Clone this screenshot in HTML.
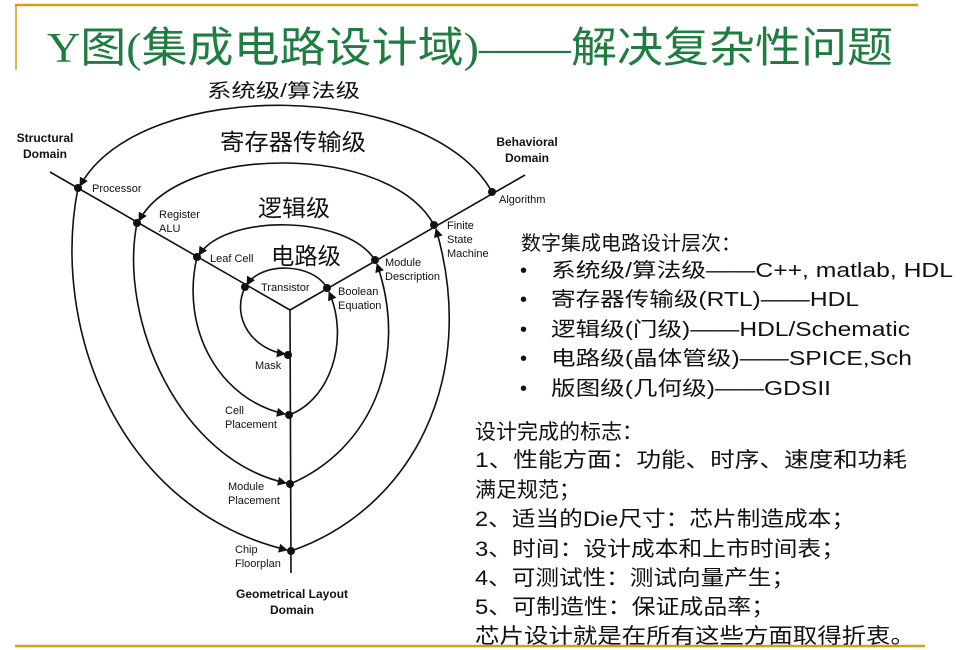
<!DOCTYPE html>
<html><head><meta charset="utf-8"><style>
html,body{margin:0;padding:0;background:#fff;width:963px;height:650px;overflow:hidden}
svg{display:block}
.s{font-family:"Liberation Sans",Arial,sans-serif;font-size:11px;fill:#111}
.b{font-family:"Liberation Sans",Arial,sans-serif;font-size:12px;font-weight:bold;fill:#111}
.c{font-family:"Liberation Sans","Noto Sans CJK SC",sans-serif;fill:#111}
</style></head><body>
<svg width="963" height="650" viewBox="0 0 963 650" xmlns="http://www.w3.org/2000/svg">
<defs><marker id="a" viewBox="0 0 10 10" refX="9" refY="5" markerWidth="11" markerHeight="9" markerUnits="userSpaceOnUse" orient="auto"><path d="M0,0L10,5L0,10z" fill="#111"/></marker></defs>
<line x1="15" y1="5" x2="918" y2="5" stroke="#d4a017" stroke-width="2.5"/>
<line x1="16" y1="4" x2="16" y2="70" stroke="#d4a017" stroke-width="1.5"/>
<line x1="15" y1="646" x2="925" y2="646" stroke="#d4a017" stroke-width="2.5"/>
<text x="47" y="62" textLength="846" lengthAdjust="spacingAndGlyphs" style="font-family:'Liberation Serif','Noto Sans CJK SC',serif;font-size:42px;fill:#1f7d42">Y图(集成电路设计域)——解决复杂性问题</text>
<g fill="none" stroke="#111" stroke-width="1.6">
<line x1="50" y1="172" x2="290" y2="310"/><line x1="525" y1="175" x2="290" y2="310"/><line x1="290" y1="310" x2="291" y2="573"/>
<g marker-end="url(#a)">
<path d="M492,192 C430,80 140,75 80,186"/>
<path d="M78,188 C50,330 120,510 287,550"/>
<path d="M291,551 C410,510 480,380 436,229"/>
<path d="M434,225 C390,143 180,143 139,221"/>
<path d="M137,223 C118,320 180,460 286,483"/>
<path d="M290,484 C370,450 410,360 377,264"/>
<path d="M375,260 C345,214 225,214 199,255"/>
<path d="M197,257 C180,330 220,400 285,414"/>
<path d="M289,415 C330,400 350,340 329,292"/>
<path d="M327,288 C312,262 260,262 247,285"/>
<path d="M245,287 C230,320 255,350 285,354"/>
</g></g>
<g fill="#111">
<circle cx="78" cy="188" r="4"/><circle cx="137" cy="223" r="4"/><circle cx="197" cy="257" r="4"/><circle cx="245" cy="287" r="4"/>
<circle cx="492" cy="192" r="4"/><circle cx="434" cy="225" r="4"/><circle cx="375" cy="260" r="4"/><circle cx="327" cy="288" r="4"/>
<circle cx="288" cy="355" r="4"/><circle cx="289" cy="415" r="4"/><circle cx="290" cy="484" r="4"/><circle cx="291" cy="551" r="4"/>
</g>
<text class="b" x="45" y="142" text-anchor="middle">Structural</text>
<text class="b" x="45" y="158" text-anchor="middle">Domain</text>
<text class="b" x="527" y="146" text-anchor="middle">Behavioral</text>
<text class="b" x="527" y="162" text-anchor="middle">Domain</text>
<text class="b" x="292" y="598" text-anchor="middle">Geometrical Layout</text>
<text class="b" x="292" y="614" text-anchor="middle">Domain</text>
<text class="s" x="92" y="192">Processor</text>
<text class="s" x="159" y="218">Register</text><text class="s" x="159" y="232">ALU</text>
<text class="s" x="210" y="262">Leaf Cell</text>
<text class="s" x="261" y="291">Transistor</text>
<text class="s" x="338" y="295">Boolean</text><text class="s" x="338" y="309">Equation</text>
<text class="s" x="385" y="266">Module</text><text class="s" x="385" y="280">Description</text>
<text class="s" x="447" y="229">Finite</text><text class="s" x="447" y="243">State</text><text class="s" x="447" y="257">Machine</text>
<text class="s" x="499" y="203">Algorithm</text>
<text class="s" x="255" y="369">Mask</text>
<text class="s" x="225" y="414">Cell</text><text class="s" x="225" y="428">Placement</text>
<text class="s" x="228" y="490">Module</text><text class="s" x="228" y="504">Placement</text>
<text class="s" x="235" y="553">Chip</text><text class="s" x="235" y="567">Floorplan</text>
<text class="c" x="207" y="97" textLength="153" lengthAdjust="spacingAndGlyphs" style="font-size:19px">系统级/算法级</text>
<text class="c" x="220" y="150" textLength="146" lengthAdjust="spacingAndGlyphs" style="font-size:23px">寄存器传输级</text>
<text class="c" x="258" y="216" textLength="72" lengthAdjust="spacingAndGlyphs" style="font-size:23px">逻辑级</text>
<text class="c" x="271" y="264" textLength="70" lengthAdjust="spacingAndGlyphs" style="font-size:23px">电路级</text>
<g class="c" style="font-size:20px">
<text x="521" y="250">数字集成电路设计层次：</text>
<text x="520" y="277">•</text><text x="551" y="277" textLength="402" lengthAdjust="spacingAndGlyphs">系统级/算法级——C++, matlab, HDL</text>
<text x="520" y="306">•</text><text x="551" y="306" textLength="308" lengthAdjust="spacingAndGlyphs">寄存器传输级(RTL)——HDL</text>
<text x="520" y="336">•</text><text x="551" y="336" textLength="359" lengthAdjust="spacingAndGlyphs">逻辑级(门级)——HDL/Schematic</text>
<text x="520" y="365">•</text><text x="551" y="365" textLength="361" lengthAdjust="spacingAndGlyphs">电路级(晶体管级)——SPICE,Sch</text>
<text x="520" y="395">•</text><text x="551" y="395" textLength="280" lengthAdjust="spacingAndGlyphs">版图级(几何级)——GDSII</text>
</g>
<g class="c" style="font-size:21px">
<text x="475" y="439">设计完成的标志：</text>
<text x="475" y="467" textLength="432" lengthAdjust="spacingAndGlyphs">1、性能方面：功能、时序、速度和功耗</text>
<text x="475" y="497">满足规范；</text>
<text x="475" y="526" textLength="380" lengthAdjust="spacingAndGlyphs">2、适当的Die尺寸：芯片制造成本；</text>
<text x="475" y="556" textLength="370" lengthAdjust="spacingAndGlyphs">3、时间：设计成本和上市时间表；</text>
<text x="475" y="585" textLength="320" lengthAdjust="spacingAndGlyphs">4、可测试性：测试向量产生；</text>
<text x="475" y="614" textLength="300" lengthAdjust="spacingAndGlyphs">5、可制造性：保证成品率；</text>
<text x="475" y="643" textLength="440" lengthAdjust="spacingAndGlyphs">芯片设计就是在所有这些方面取得折衷。</text>
</g>
</svg>
</body></html>
